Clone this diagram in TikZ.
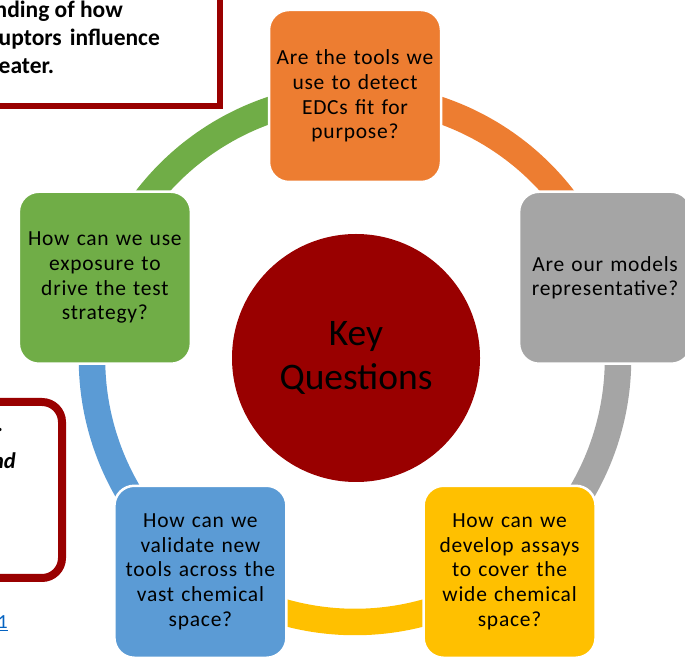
\documentclass[tikz,border=0pt]{standalone}
\usepackage{fontspec}
\setmainfont{Carlito}
\newfontfamily\qfont[LetterSpace=3.5]{Carlito}
\definecolor{keyred}{HTML}{990000}
\definecolor{qorange}{HTML}{ED7D31}
\definecolor{qgray}{HTML}{A5A5A5}
\definecolor{qyellow}{HTML}{FFC000}
\definecolor{qblue}{HTML}{5B9BD5}
\definecolor{qgreen}{HTML}{70AD47}
\definecolor{linkblue}{HTML}{0563C1}
\pgfdeclarelayer{ring}
\pgfsetlayers{ring,main}
\begin{document}
\begin{tikzpicture}[x=1pt,y=1pt,
  question/.style={rectangle, rounded corners=20pt, minimum width=172pt,
    minimum height=172pt, draw=white, line width=2.5pt, text width=168pt,
    align=center, inner sep=0pt, text=black,
    font=\qfont\fontsize{21.5}{24.7}\selectfont},
  band/.style={line width=26.5pt},
  hub/.style={circle, fill=keyred, minimum size=248pt, inner sep=0pt,
    align=center, text=black, font=\fontsize{37.5}{43.5}\selectfont},
  noteframe/.style={draw=keyred, fill=white},
  notetext/.style={anchor=base west, inner sep=0pt,
    font=\bfseries\fontsize{23.5}{28}\selectfont},
]
\useasboundingbox (0,0) rectangle (685,661);

% side notes, partly outside the page
\draw[noteframe, line width=6pt] (-20,680) rectangle (219.5,555);
\node[notetext, anchor=base east] (n1) at (123,643) {nding of how};
\node[notetext] (n2) at (-1.5,615) {uptors\hspace{8pt}influence};
\node[notetext] (n3) at (-1.5,587) {eater.};

\draw[noteframe, line width=8pt, rounded corners=20pt] (-40,259) rectangle (62,83);
\node[notetext, anchor=base east, font=\bfseries\itshape\fontsize{22.5}{28}\selectfont] (m1) at (3.5,229) {.};
\node[notetext, anchor=base east, font=\bfseries\itshape\fontsize{22.5}{28}\selectfont] (m2) at (16,192) {nd};

\node[anchor=base west, inner sep=0pt, text=linkblue, font=\fontsize{20}{24}\selectfont] (link) at (-2.5,32) {$\underline{\hbox{1}}$};

% cycle of questions
\coordinate (ctr) at (355,302);
\node[hub] (key) at (356,303) {Key\\Questions};

\node[question, fill=qorange] (q1) at ([shift={(90:263pt)}]ctr)
  {Are the tools we\\use to detect\\EDCs fit for\\purpose?};
\node[question, fill=qgray] (q2) at ([shift={(18:263pt)}]ctr)
  {Are our models\\representative?};
\node[question, fill=qyellow] (q3) at ([shift={(-54:263pt)}]ctr)
  {How can we\\develop assays\\to cover the\\wide chemical\\space?};
\node[question, fill=qblue] (q4) at ([shift={(-126:263pt)}]ctr)
  {How can we\\validate new\\tools across the\\vast chemical\\space?};
\node[question, fill=qgreen] (q5) at ([shift={(162:263pt)}]ctr)
  {How can we use\\exposure to\\drive the test\\strategy?};

\begin{pgfonlayer}{ring}
  \draw[band, qorange] (q1.center) arc[start angle=90, end angle=18, radius=263pt];
  \draw[band, qgray] (q2.center) arc[start angle=18, end angle=-54, radius=263pt];
  \draw[band, qyellow] (q3.center) arc[start angle=-54, end angle=-126, radius=263pt];
  \draw[band, qblue] (q4.center) arc[start angle=-126, end angle=-198, radius=263pt];
  \draw[band, qgreen] (q5.center) arc[start angle=162, end angle=90, radius=263pt];
\end{pgfonlayer}
\end{tikzpicture}
\end{document}
